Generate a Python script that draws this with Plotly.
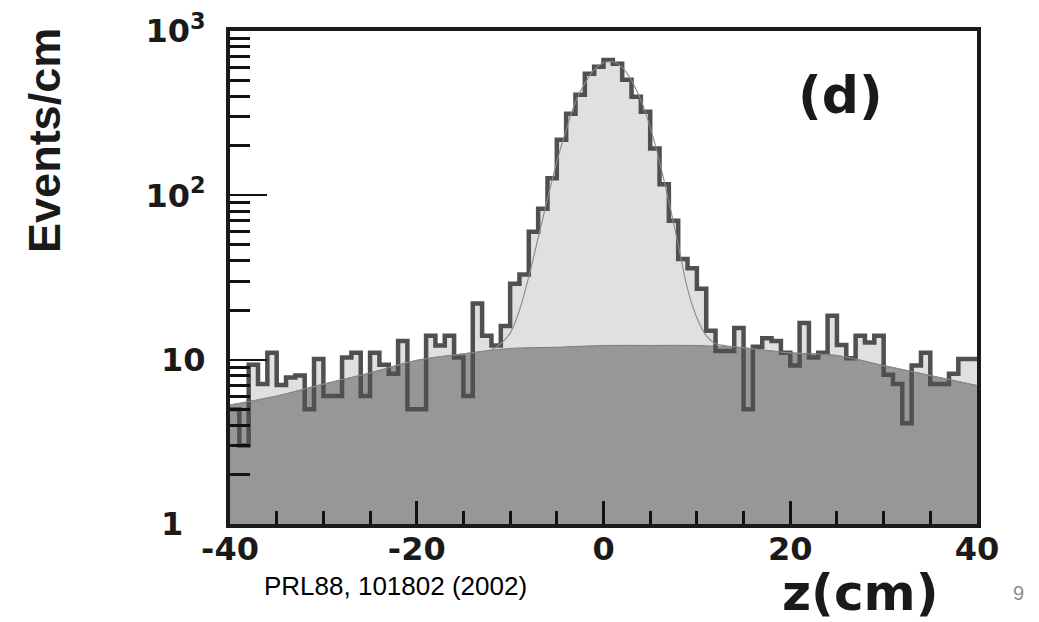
import plotly.graph_objects as go

# ---- data ----
bin_edges = list(range(-40, 41))  # 1 cm bins
counts = [5, 3, 9.3, 7.1, 11, 7.0, 7.8, 8.0, 5.0, 10.1,
          6.0, 6.0, 10.3, 11, 6.0, 11, 9.3, 8.2, 13, 5.0,
          5.0, 14, 12.2, 14, 10.3, 6.0, 22, 14, 12.2, 16,
          29, 33, 60, 83, 127, 218, 314, 409, 549, 605,
          667, 631, 505, 398, 323, 193, 117, 70, 41, 36,
          27, 15, 11.3, 11.3, 15.6, 5.0, 12, 13.5, 13, 11,
          9.2, 16.7, 10.3, 11, 18.5, 12.3, 10.2, 14, 12.7, 14,
          8.1, 7.1, 4.1, 9.2, 11, 7.1, 7.1, 8.2, 10.1, 10.1]

bkg_z = [-40, -35, -30, -25, -20, -15, -10, -5, 0, 5, 10, 15, 20, 25, 30, 35, 40]
bkg_val = [5.3, 6.0, 7.1, 8.3, 9.9, 10.85, 11.7, 11.9, 12.2, 12.2, 12.2, 11.8, 11.0, 10.6, 9.2, 8.0, 6.96]

fit_z = [-40, -35, -30, -25, -20, -15, -12, -11, -10, -9, -8, -7, -6, -5, -4, -3, -2, -1,
         0, 1, 2, 3, 4, 5, 6, 7, 8, 9, 10, 11, 12, 13, 15, 20, 25, 30, 35, 40]
fit_val = [5.3, 6.0, 7.1, 8.3, 9.9, 10.85, 11.5, 12.5, 14.5, 20, 32, 55, 95, 160, 250, 370, 480, 580,
           640, 650, 600, 500, 380, 260, 160, 92, 50, 27, 18, 14, 12.5, 12.2, 11.8, 11.0, 10.6, 9.2, 8.0, 6.96]

x_tick_vals = [-40, -20, 0, 20, 40]
x_tick_text = ["-40", "-20", "0", "20", "40"]
y_tick_vals = [1, 10, 100, 1000]
y_tick_text = ["1\u2007", "10", "10<sup>2</sup>", "10<sup>3</sup>"]
y_minor_vals = [2, 3, 4, 5, 6, 7, 8, 9, 20, 30, 40, 50, 60, 70, 80, 90,
                200, 300, 400, 500, 600, 700, 800, 900]

step_y = counts + [counts[-1]]

fig = go.Figure()

# histogram fill (light grey)
fig.add_trace(go.Scatter(x=bin_edges, y=step_y, mode="lines", line_shape="hv",
                         line=dict(width=0, color="#e0e0e0"),
                         fill="tozeroy", fillcolor="#e0e0e0", hoverinfo="skip",
                         showlegend=False))
# background fit (dark grey fill)
fig.add_trace(go.Scatter(x=bkg_z, y=bkg_val, mode="lines", line_shape="spline",
                         line=dict(width=1, color="#7d7d7d"),
                         fill="tozeroy", fillcolor="#979797", showlegend=False))
# histogram outline
fig.add_trace(go.Scatter(x=bin_edges, y=step_y, mode="lines", line_shape="hv",
                         line=dict(width=4.5, color="#505050"), showlegend=False))
# total fit curve
fig.add_trace(go.Scatter(x=fit_z, y=fit_val, mode="lines", line_shape="spline",
                         line=dict(width=1.1, color="#8a8a8a"), showlegend=False))

tick_font = dict(family="DejaVu Sans", size=32, color="#1a1a1a", weight="bold")

fig.update_xaxes(range=[-40, 40], showline=True, mirror=True, linewidth=4, linecolor="#1a1a1a",
                 showgrid=False, zeroline=False, automargin=False,
                 tickmode="array", tickvals=x_tick_vals, ticktext=x_tick_text,
                 ticks="inside", ticklen=23, tickwidth=3, tickcolor="#111111",
                 minor=dict(ticks="inside", ticklen=13, tickwidth=3, tickcolor="#111111",
                            dtick=5, showgrid=False),
                 tickfont=tick_font, ticklabelstandoff=-6, ticklabeloverflow="allow")
fig.update_yaxes(type="log", range=[0, 3], showline=True, mirror=True, linewidth=4,
                 linecolor="#1a1a1a", showgrid=False, zeroline=False, automargin=False,
                 tickmode="array", tickvals=y_tick_vals, ticktext=y_tick_text,
                 ticks="inside", ticklen=37, tickwidth=2, tickcolor="#111111",
                 minor=dict(ticks="inside", ticklen=20, tickwidth=3, tickcolor="#111111",
                            tickvals=y_minor_vals, showgrid=False),
                 tickfont=tick_font, ticklabelstandoff=14, ticklabeloverflow="allow")

annotations = [
    dict(text="<b>Events/cm</b>", x=-0.2477, y=0.779, xref="paper", yref="paper",
         textangle=-90, showarrow=False, xanchor="center", yanchor="middle",
         font=dict(family="Liberation Sans", size=45, color="#1a1a1a")),
    dict(text="<b>z(cm)</b>", x=0.952, y=-0.140, xref="paper", yref="paper",
         showarrow=False, xanchor="right", yanchor="middle",
         font=dict(family="DejaVu Sans", size=50, color="#1a1a1a")),
    dict(text="<b>(d)</b>", x=0.8166, y=0.870, xref="paper", yref="paper",
         showarrow=False, xanchor="center", yanchor="middle",
         font=dict(family="DejaVu Sans", size=52, color="#1a1a1a")),
    dict(text="PRL88, 101802 (2002)", x=0.2209, y=-0.1258, xref="paper", yref="paper",
         showarrow=False, xanchor="center", yanchor="middle",
         font=dict(family="Liberation Sans", size=26, color="#000000")),
    dict(text="9", x=1.055, y=-0.140, xref="paper", yref="paper",
         showarrow=False, xanchor="center", yanchor="middle",
         font=dict(family="Liberation Sans", size=20, color="#8c8c8c")),
]

# page body adds an 8 px offset, so the figure is 8 px smaller and margins are shifted
fig.update_layout(width=1031, height=614, margin=dict(l=222, r=62, t=23, b=98),
                  paper_bgcolor="white", plot_bgcolor="white",
                  annotations=annotations, showlegend=False)

fig.write_html("out.html")
